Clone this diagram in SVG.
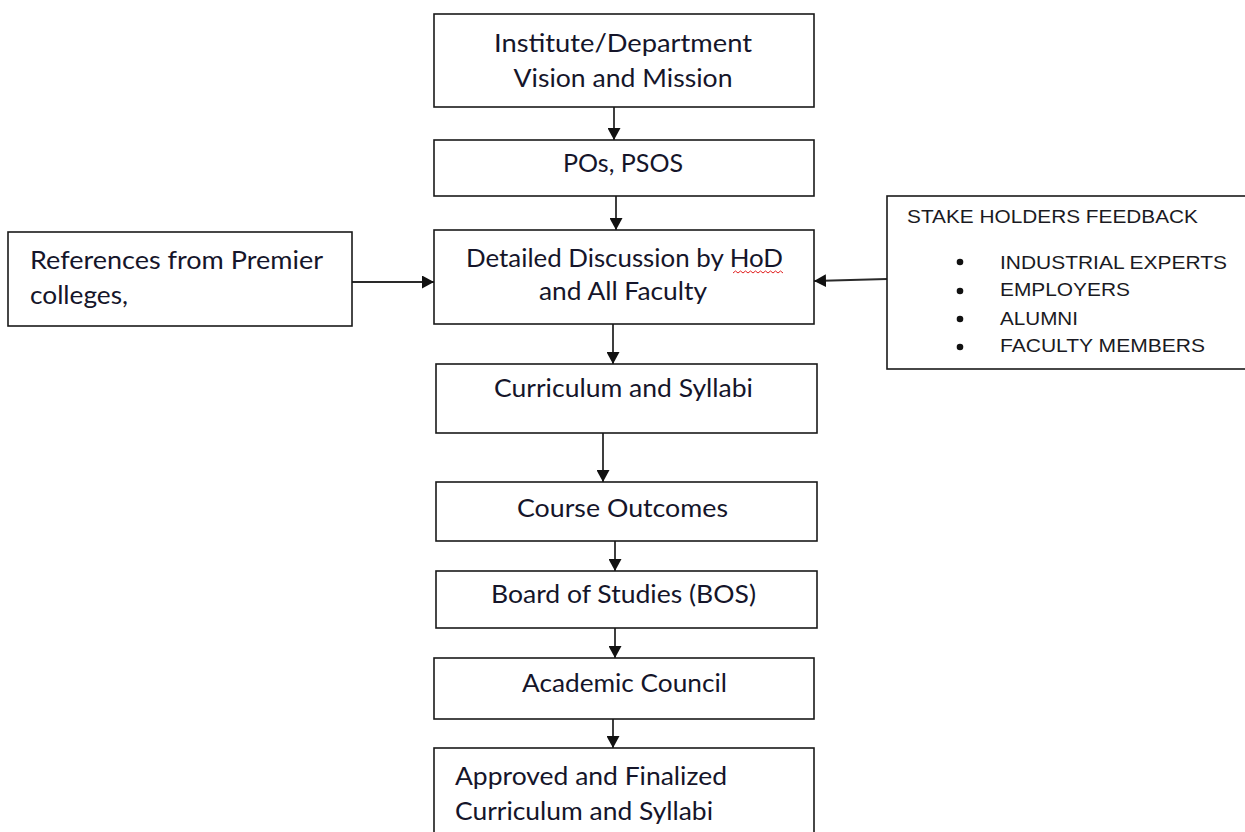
<svg xmlns="http://www.w3.org/2000/svg" width="1245" height="832" viewBox="0 0 1245 832">
<style>
.box{fill:#fff;stroke:#1a1a1a;stroke-width:1.6}
.t{font-family:Lato,"Open Sans",sans-serif;font-size:25px;fill:#15152a}
.m{text-anchor:middle}
.s{font-family:"Liberation Sans",Arial,sans-serif;font-size:19px;fill:#1a1a22}
.c{stroke:#2a2a2a;stroke-width:1.8;fill:none;marker-end:url(#ah)}
.b{fill:#111}
</style>
<defs>
<marker id="ah" markerUnits="userSpaceOnUse" markerWidth="13" markerHeight="13" refX="12" refY="6.5" orient="auto">
<path d="M0,0 L12,6.5 L0,13 z" fill="#111"/>
</marker>
</defs>
<rect width="1245" height="832" fill="#fff"/>
<g id="connectors">
<line class="c" x1="614" y1="107" x2="614" y2="140"/>
<line class="c" x1="616" y1="196" x2="616" y2="230"/>
<line class="c" x1="613" y1="324" x2="613" y2="364"/>
<line class="c" x1="603" y1="433" x2="603" y2="482"/>
<line class="c" x1="615" y1="541" x2="615" y2="571"/>
<line class="c" x1="615" y1="628" x2="615" y2="658"/>
<line class="c" x1="613" y1="719" x2="613" y2="748"/>
<line class="c" x1="352" y1="282" x2="434" y2="282"/>
<line class="c" x1="887" y1="279" x2="814" y2="281"/>
</g>
<g id="vision">
<rect class="box" x="434" y="14" width="380" height="93"/>
<text class="t m" x="623" y="52" textLength="258" lengthAdjust="spacingAndGlyphs">Institute/Department</text>
<text class="t m" x="623" y="87" textLength="219" lengthAdjust="spacingAndGlyphs">Vision and Mission</text>
</g>
<g id="pos">
<rect class="box" x="434" y="140" width="380" height="56"/>
<text class="t m" x="623" y="172" textLength="120" lengthAdjust="spacingAndGlyphs">POs, PSOS</text>
</g>
<g id="discussion">
<rect class="box" x="434" y="230" width="380" height="94"/>
<text class="t m" x="624.5" y="267" textLength="317" lengthAdjust="spacingAndGlyphs">Detailed Discussion by HoD</text>
<text class="t m" x="623" y="300" textLength="168" lengthAdjust="spacingAndGlyphs">and All Faculty</text>
<path d="M733,273 l2.5,-2 l2.5,2 l2.5,-2 l2.5,2 l2.5,-2 l2.5,2 l2.5,-2 l2.5,2 l2.5,-2 l2.5,2 l2.5,-2 l2.5,2 l2.5,-2 l2.5,2 l2.5,-2 l2.5,2 l2.5,-2 l2.5,2 l2.5,-2 l2.5,2" fill="none" stroke="#e02020" stroke-width="1"/>
</g>
<g id="references">
<rect class="box" x="8" y="232" width="344" height="94"/>
<text class="t" x="30" y="269" textLength="293" lengthAdjust="spacingAndGlyphs">References from Premier</text>
<text class="t" x="30" y="304" textLength="98" lengthAdjust="spacingAndGlyphs">colleges,</text>
</g>
<g id="stakeholders">
<rect class="box" x="887" y="196" width="360" height="173"/>
<text class="s" x="907" y="223" textLength="291" lengthAdjust="spacingAndGlyphs">STAKE HOLDERS FEEDBACK</text>
<circle class="b" cx="960" cy="262" r="3.3"/>
<circle class="b" cx="960" cy="291" r="3.3"/>
<circle class="b" cx="960" cy="319" r="3.3"/>
<circle class="b" cx="960" cy="347" r="3.3"/>
<text class="s" x="1000" y="269" textLength="227" lengthAdjust="spacingAndGlyphs">INDUSTRIAL EXPERTS</text>
<text class="s" x="1000" y="296" textLength="130" lengthAdjust="spacingAndGlyphs">EMPLOYERS</text>
<text class="s" x="1000" y="325" textLength="78" lengthAdjust="spacingAndGlyphs">ALUMNI</text>
<text class="s" x="1000" y="352" textLength="205" lengthAdjust="spacingAndGlyphs">FACULTY MEMBERS</text>
</g>
<g id="curriculum">
<rect class="box" x="436" y="364" width="381" height="69"/>
<text class="t m" x="623.5" y="397" textLength="259" lengthAdjust="spacingAndGlyphs">Curriculum and Syllabi</text>
</g>
<g id="outcomes">
<rect class="box" x="436" y="482" width="381" height="59"/>
<text class="t m" x="622.5" y="517" textLength="211" lengthAdjust="spacingAndGlyphs">Course Outcomes</text>
</g>
<g id="bos">
<rect class="box" x="436" y="571" width="381" height="57"/>
<text class="t m" x="623.5" y="603" textLength="265" lengthAdjust="spacingAndGlyphs">Board of Studies (BOS)</text>
</g>
<g id="council">
<rect class="box" x="434" y="658" width="380" height="61"/>
<text class="t m" x="624.5" y="692" textLength="205" lengthAdjust="spacingAndGlyphs">Academic Council</text>
</g>
<g id="approved">
<rect class="box" x="434" y="748" width="380" height="100"/>
<text class="t" x="455" y="785" textLength="272" lengthAdjust="spacingAndGlyphs">Approved and Finalized</text>
<text class="t" x="455" y="820" textLength="258" lengthAdjust="spacingAndGlyphs">Curriculum and Syllabi</text>
</g>
</svg>
